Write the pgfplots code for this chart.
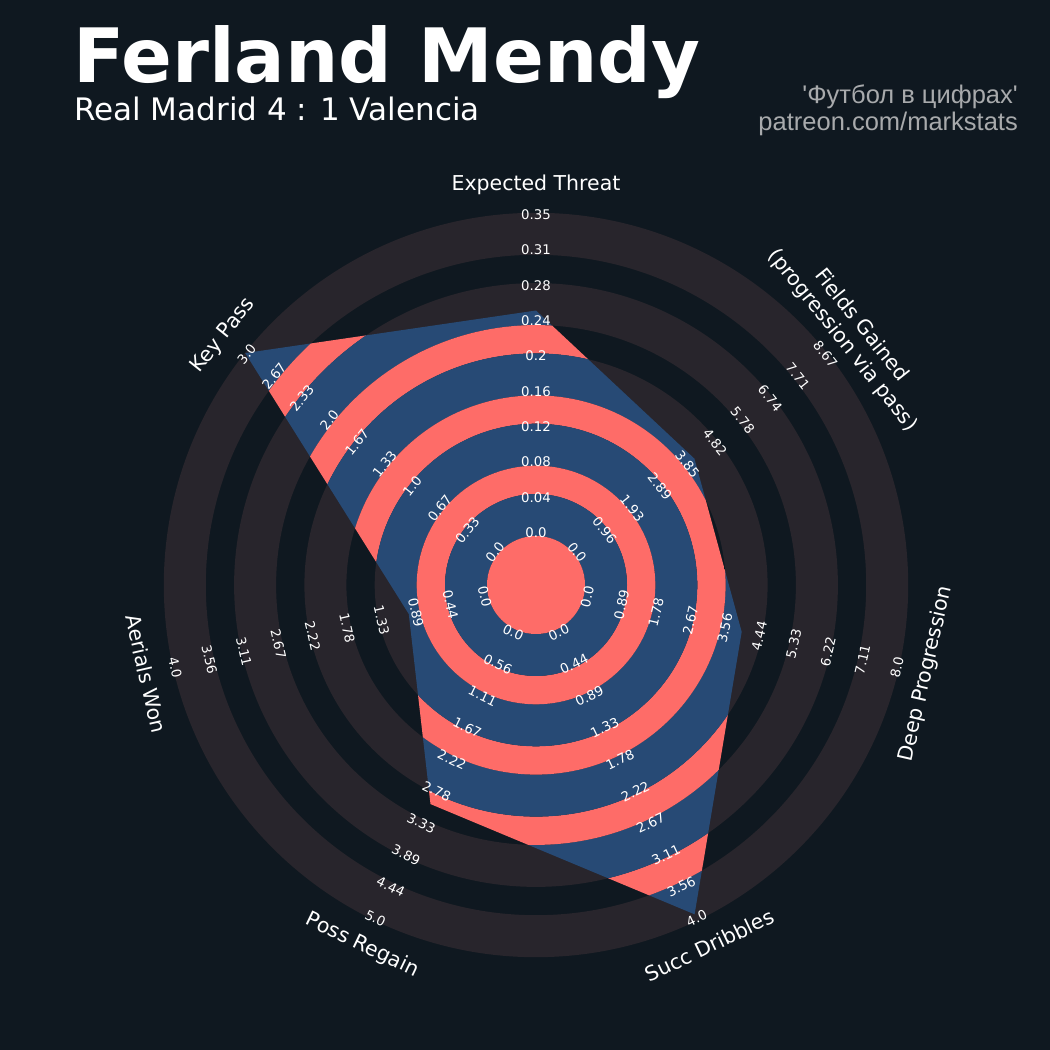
\documentclass[border=0pt]{standalone}
\usepackage{pgfplots}
\pgfplotsset{compat=1.18}
\usepackage{pgfplotstable}
\usepackage{fontspec}
\setmainfont{DejaVu Sans}
\newfontfamily\creditfont{Liberation Sans}
\definecolor{bgc}{HTML}{0F1820}
\definecolor{ringc}{HTML}{28252C}
\definecolor{bluec}{HTML}{274A75}
\definecolor{pinkc}{HTML}{FE6C68}
\definecolor{credit}{HTML}{A8AAAC}

% angle (deg), value, scale maximum (scale minimum is 0)
\pgfplotstableread{
a v m
90 0.244 0.35
38.571 4.11 8.67
-12.857 4.0 8
-64.286 3.92 4
-115.714 3.0 5
-167.143 1.0 4
141.429 3.0 3
}\radar

\begin{document}
\begin{tikzpicture}[x=1pt,y=1pt]
\fill[bgc] (0,0) rectangle (1050,1050);
\foreach \ro/\ri in {372.2/330.2,301.9/259.9,231.6/189.6,161.3/119.3,91/49}
  \fill[ringc,even odd rule] (536,465) circle[radius=\ro pt] circle[radius=\ri pt];
\begin{axis}[x=1pt,y=1pt,xmin=0,xmax=1050,ymin=0,ymax=1050,hide axis,
  at={(0,0)},anchor=south west,clip=false]
\addplot[draw=none, fill=none, path picture={
  \foreach \ro/\ri/\c in {372.2/330.2/bluec,330.2/301.9/pinkc,301.9/259.9/bluec,259.9/231.6/pinkc,231.6/189.6/bluec,189.6/161.3/pinkc,161.3/119.3/bluec,119.3/91/pinkc,91/49/bluec}
    \fill[\c,even odd rule,path picture={}] (axis cs:536,465) circle[radius=\ro pt] circle[radius=\ri pt];
  \fill[pinkc,path picture={}] (axis cs:536,465) circle[radius=49pt];
}] table[x expr={536+(50+322*\thisrow{v}/\thisrow{m})*cos(\thisrow{a})},
         y expr={465+(50+322*\thisrow{v}/\thisrow{m})*sin(\thisrow{a})}] {\radar} -- cycle;
\end{axis}
% ring labels
\foreach \a/\rot/\labs in {
  90/0/{0.0,0.04,0.08,0.12,0.16,0.2,0.24,0.28,0.31,0.35},
  38.571/-51.43/{0.0,0.96,1.93,2.89,3.85,4.82,5.78,6.74,7.71,8.67},
  -12.857/77.14/{0.0,0.89,1.78,2.67,3.56,4.44,5.33,6.22,7.11,8.0},
  -64.286/25.71/{0.0,0.44,0.89,1.33,1.78,2.22,2.67,3.11,3.56,4.0},
  -115.714/-25.71/{0.0,0.56,1.11,1.67,2.22,2.78,3.33,3.89,4.44,5.0},
  -167.143/-77.14/{0.0,0.44,0.89,1.33,1.78,2.22,2.67,3.11,3.56,4.0},
  141.429/51.43/{0.0,0.33,0.67,1.0,1.33,1.67,2.0,2.33,2.67,3.0}}{
  \foreach \l [count=\i from 0] in \labs {
    \node[text=white,font=\fontsize{13.3}{13}\selectfont,inner sep=0pt,rotate=\rot]
      at ({536+(52.5+35.3*\i)*cos(\a)},{465+(52.5+35.3*\i)*sin(\a)}) {\l};
  }
}
% parameter labels
\foreach \a/\rot/\t/\rr in {90/0/{Expected Threat}/400,
  38.571/-51.43/{Fields Gained\\(progression via pass)}/404,
  -12.857/77.14/{Deep Progression}/400,
  -64.286/25.71/{Succ Dribbles}/400,
  -115.714/-25.71/{Poss Regain}/400,
  -167.143/-77.14/{Aerials Won}/400,
  141.429/51.43/{Key Pass}/400}{
  \node[text=white,font=\fontsize{20.5}{24}\selectfont,inner sep=0pt,rotate=\rot,align=center]
    at ({536+\rr*cos(\a)},{465+\rr*sin(\a)}) {\t};
}
% titles
\node[anchor=base west,text=white,inner sep=0pt,font=\fontsize{75}{75}\selectfont\bfseries] at (73,967) {Ferland Mendy};
\node[anchor=base west,text=white,inner sep=0pt,font=\fontsize{31}{31}\selectfont] at (74,929) {Real Madrid 4 : 1 Valencia};
\node[anchor=base east,text=credit,inner sep=0pt,font=\creditfont\fontsize{25.5}{25}\selectfont] at (1018,946) {'Футбол в цифрах'};
\node[anchor=base east,text=credit,inner sep=0pt,font=\creditfont\fontsize{25.5}{25}\selectfont] at (1018,919) {patreon.com/markstats};
\end{tikzpicture}
\end{document}
